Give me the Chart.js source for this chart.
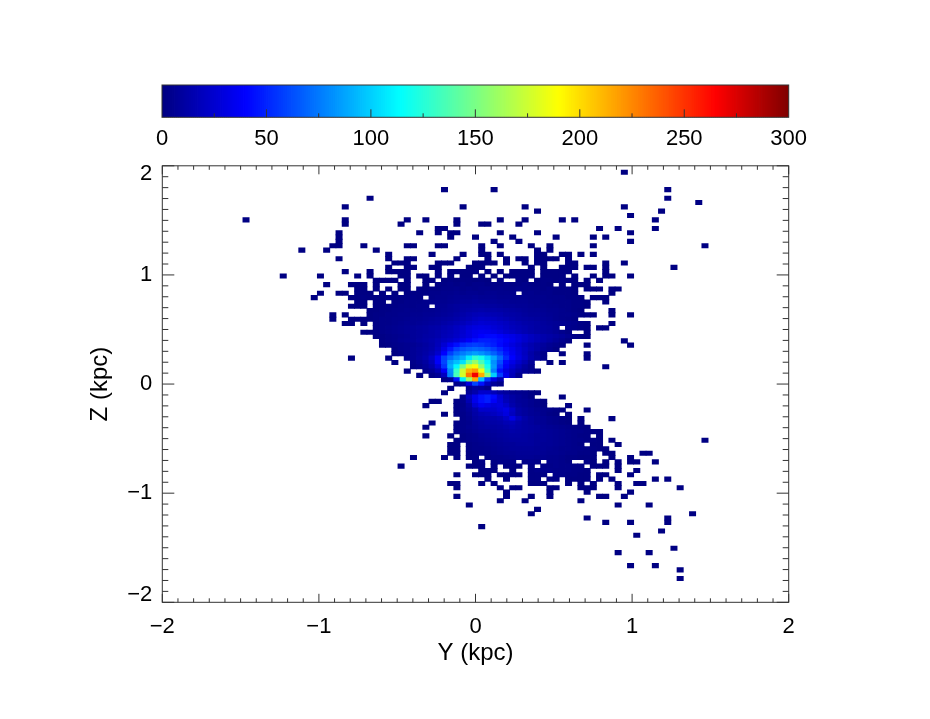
<!DOCTYPE html>
<html><head><meta charset="utf-8">
<style>html,body{margin:0;padding:0;background:#fff}#w{position:relative;width:930px;height:719px;overflow:hidden}canvas{position:absolute;left:0;top:0}</style>
<script src="https://cdn.jsdelivr.net/npm/chart.js@4/dist/chart.umd.min.js"></script>
</head><body><div id="w"><canvas id="main" width="930" height="719"></canvas><canvas id="bar" width="930" height="160"></canvas></div>
<script>
const binCount = 101;
const axisRange = [-2, 2];
const colorRange = [0, 300];
const colorStops = [[0,0,0,128],[40,0,0,255],[114,0,255,255],[190,255,255,0],[265,255,0,0],[300,128,0,0]];
const xTickValues = [-2,-1,0,1,2];
const xTickLabels = ['\u22122','\u22121','0','1','2'];
const zTickValues = [-2,-1,0,1,2];
const zLabelPositions = [-1.93,-1,0,1,1.93];
const zTickLabels = ['\u22122','\u22121','0','1','2'];
const colorTickValues = [0,50,100,150,200,250,300];

// lone bins, count 1: [row, col, col, ...]
const sparseBins = [
[1,74],[5,45,53,81],[7,33,81],[8,86],[9,29,48,58,74],[10,60,80],[11,75],
[12,13,29,39,42,47,54,58,64,66,79],[13,29,38,47,51,52,57],[14,44,45,70,73,79],[15,28,41,44,46,47,54,60,75],
[16,28,46,50,56,63,69,71],[17,28,53,57,75],[18,27,28,32,39,40,44,45,51,54,59,62,69,87],[19,22,26,34,51,60,62],
[20,36,43,48,51,52,54,60,61,64,65,67,69],[21,28,36,39,40,47,52,55,57,58,60,61,62,63,65],
[22,37,38,39,44,45,46,50,51,52,53,55,58,60,61,65,66,71,74],[23,36,39,40,43,44,49,50,51,59,61,64,65,66,68,69,71,82],
[24,29,33,36,37,38,39,44,46,47,48,49,50,52,54,56,57,58,59,61,62,63,64,65,71],
[25,19,25,31,33,38,39,41,42,44,46,48,49,51,53,55,56,57,58,59,61,62,63,64,66,69,71,72,75],
[74,47,54,56,57,62,63,67,68,69,73,83],[75,55,62,68,75],[76,47,55,59,62,70,71,74],[77,54,58,67],[78,49,73,78],[79,60],[80,59,85],
[81,68,81],[82,71,75,81],[83,51],[84,80],[85,76],[88,82],[89,73,78],[92,75,79],[93,83],[95,83]
];
// runs of counts: [row, firstCol, count, count, ...] (0 = empty bin)
const upperLobeBins = [
[26,34,1,1,1,1,0,1,0,0,1,1,0,1,2,1,2,2,1,2,1,0,2,0,0,2,1,0,1,2,2,1,2,1,1,0,1,0,1],
[27,26,1],[27,30,1,1,1,0,1],[27,38,1,1],[27,42,1],[27,44,2,2,3,2,3,2,3,3,2,3,2,3,2,2,3,2,2,2,1],[27,64,1],[27,66,1,1,1],
[28,31,1,1,0,1,0,1,0,1,1,0,2,1,2,2,3,3,4,3,4,3,4,4,3,4,3,3,4,3,3,3,2,3,2,2,2,1,0,1,1,1,0,1,1],
[29,25,1],[29,28,1,1,0,1,1,1,0,1,0,1,0,1,2,2,2,3,3,4,4,5,4,5,5,4,5,5,4,4,4,0,3,4,3,3,3,2,2,2,1],[29,72,1],
[30,24,1],[30,30,1,1,2,1,1,1,2,2,2,2,3,2,0,3,4,4,5,6,6,6,7,6,6,6,5,5,5,4,5,4,4,4,3,3,3,2,2,1,0,1,1,1],
[31,31,1,1,0,1,1,0,2,2,3,3,3,4,4,5,5,6,7,8,8,9,8,8,8,7,7,6,6,6,5,5,4,4,3,3,3,2,2,1],[31,71,1],
[32,30,1,1,1,0,1,1,2,2,3,3,3,4,4,0,6,6,8,9,10,10,11,11,10,10,9,8,8,7,7,6,5,5,4,4,3,3,2,2,1],
[33,33,1,1,2,2,3,3,4,4,4,5,5,6,7,8,9,11,12,13,14,13,13,12,11,10,9,8,7,7,6,5,5,4,3,2,1],[33,72,1],
[34,27,1,0,1],[34,33,1,2,2,3,3,4,4,5,5,6,6,7,8,9,11,13,15,17,18,17,16,15,13,12,11,9,8,8,7,6,5,4,4,3,2,2,1],[34,72,1,0,0,1],
[35,27,1,0,0,1,1,1,1,2,3,3,4,4,5,6,6,7,8,9,10,11,13,15,17,20,22,21,20,18,16,14,12,11,10,9,8,7,5,4,3,2],
[36,29,1,1,0,1,0,2,3,3,4,5,6,6,7,8,9,10,12,14,16,18,21,24,26,25,24,22,20,17,15,13,12,11,9,8,7,6,5,4,2,1],[36,72,1],
[37,34,2,3,4,5,6,7,8,9,10,12,13,15,17,20,23,27,30,31,30,27,25,22,19,17,15,13,11,10,9,7,0,4,3,2,1],[37,70,1,1],
[38,32,1,1,2,3,4,5,6,7,8,9,10,12,14,16,18,21,25,30,34,36,35,32,29,25,22,19,16,14,12,10,9,7,4,2],[38,68,1],
[39,34,1,2,3,4,5,6,8,9,11,12,14,17,19,22,26,30,35,40,42,42,39,35,32,28,24,20,17,14,12,10,8,5,3,2,1],
[40,35,2,3,4,6,7,8,10,12,14,17,20,23,27,32,38,44,48,48,46,43,39,34,29,24,20,17,14,11,8,5,2],[40,74,1],
[41,35,1,2,3,4,5,6,8,10,13,18,26,36,44,52,56,58,56,52,48,42,36,30,25,19,15,12,9,6,4,2],[41,68,1],[41,75,1],
[42,37,2,4,5,7,9,11,14,20,32,46,58,64,68,70,68,64,58,50,42,34,27,21,16,12,8,5,2],
[43,37,1,3,5,7,9,12,16,24,40,58,70,76,82,86,82,76,68,58,46,36,28,20,13,8,3],[43,64,1,0,0,0,1],
[44,30,1],[44,36,1,0,0,4,7,10,14,22,38,58,72,82,90,108,128,120,102,88,70,52,40,30,22,14,9,4],[44,68,1],
[45,37,1,0,0,3,6,10,18,38,60,85,95,105,140,158,135,110,82,62,42,32,24,16,8],[45,62,1,0,1],
[46,40,2,4,8,14,28,55,90,112,150,180,188,155,120,85,55,38,26,18,10,5],[46,71,1],
[47,39,1,0,0,4,8,16,38,80,130,175,212,220,185,130,78,45,30,20,13,8,5,2],
[48,41,1,0,3,7,20,78,135,178,230,268,215,155,100,58,34,18,6],
[49,45,2,5,45,110,160,215,95,55,30,15],
[50,47,3,8,30,60,45,20,8,3],
[51,46,1,0,0,4,10,8,3]
];
const lowerLobeBins = [
[52,45,1,0,0,0,8,14,24,24,18,12,9,6,5,4,2,1],
[53,48,3,20,34,44,48,42,26,16,11,8,5,2],[53,64,1],
[54,43,1,1,0,0,2,4,16,34,44,48,38,28,18,12,8,7,5,3,1],
[55,42,1,0,0,0,0,2,3,10,26,36,32,28,30,24,14,9,7,5,3,1],[55,65,1],
[56,47,2,4,8,14,24,24,24,28,32,22,12,9,7,5,4,3,2,1],[56,68,1],
[57,45,1,0,2,3,6,12,16,18,20,24,30,20,12,9,7,6,4,2,1],[57,65,1],
[58,48,3,5,10,13,14,14,16,22,32,20,13,9,7,6,4,3,2,1],[58,67,1],[58,72,1],
[59,43,1,0,0,0,2,3,4,8,10,12,12,13,16,18,14,11,9,7,6,4,3,2,1],[59,67,1],
[60,42,1,0,0,0,0,2,3,5,7,9,10,10,11,13,15,13,11,10,9,7,6,5,4,3,2,2,1],
[61,47,2,3,4,6,8,8,9,10,11,13,12,11,10,9,8,7,6,5,4,3,3,2,2,1],
[62,42,1,0,0,0,1,0,2,3,4,6,7,8,9,10,11,11,10,9,8,8,7,6,5,4,3,2,2,0,1],
[63,47,1,2,3,4,5,6,7,8,9,10,10,10,9,8,8,7,6,5,4,3,3,2,2,1],[63,72,1],[63,87,1],
[64,46,1,1,0,2,3,4,5,6,7,8,8,9,9,9,8,7,7,6,5,4,3,2,0,1,1],[64,73,1],
[65,46,1,1,0,2,3,3,4,5,6,7,8,8,8,8,7,7,6,5,4,4,3,3,2,2,1,1],
[66,46,1,1,0,1,2,3,3,4,5,6,6,7,7,7,7,6,5,5,4,3,3,2,2,1,0,1,1],[66,77,1,1],
[67,40,1],[67,45,1,0,1,0,1,2,0,2,3,3,4,5,6,6,6,5,5,4,4,3,2,2,1,1,1,0,0,1],[67,75,1],
[68,50,1,2,0,2,3,3,3,0,3,4,3,0,4,4,3,2,0,0,2,1,0,1,0,1,0,1,1,0,0,1],
[69,38,1],[69,49,1,1,1,0,1,0,1,2,1,0,2,0,3,3,4,3,3,2,2,0,1,1,1,0,1],
[70,51,1,1,1,0,0,1,0,0,2,3,4,4,3,3,3,2,2,1,0,0,0,0,1,0,0,1],
[71,47,1,0,0,1,1,1,0,1,2,2,1,0,2,2,2,0,3,3,2,2,1,1,0,1,1,0,0,0,1],
[72,52,1,0,0,1,0,0,0,2,2,0,2,2,0,1,1,1,1,0,1,0,1,0,0,0,0,0,0,1,0,1],
[73,46,1,1,0,0,0,1,0,1],[73,59,1,1,1,0,0,0,1,0,1,0,1,0,0,0,1,0,0,1,1]
];

function jet(v){
  for(let i=1;i<colorStops.length;i++){
    const a=colorStops[i-1],b=colorStops[i];
    if(v<=b[0]){const t=(v-a[0])/(b[0]-a[0]);
      return 'rgb('+[1,2,3].map(k=>Math.round(a[k]+(b[k]-a[k])*t)).join(',')+')';}
  }
  return 'rgb(128,0,0)';
}
const span=axisRange[1]-axisRange[0], binSize=span/binCount;
function cell(r,c,v){
  const z=axisRange[1]-(r+0.5)*binSize;
  return {x:axisRange[0]+(c+0.5)*binSize,y:[z-binSize/2,z+binSize/2],v};
}
const cells=[];
sparseBins.forEach(([r,...cols])=>cols.forEach(c=>cells.push(cell(r,c,1))));
upperLobeBins.concat(lowerLobeBins).forEach(([r,c0,...vals])=>vals.forEach((v,i)=>{if(v>0)cells.push(cell(r,c0+i,v));}));

const fontFamily='"Liberation Sans", Arial, sans-serif';
const tickFont={family:fontFamily,size:22};
const titleFont={family:fontFamily,size:24};
const frameColor='#333';

function drawTicks(ctx,scale,values,len,side,area){
  values.forEach(v=>{
    const p=scale.getPixelForValue(v);
    ctx.beginPath();
    if(side==='bottom'){ctx.moveTo(p,area.bottom);ctx.lineTo(p,area.bottom-len);}
    if(side==='top'){ctx.moveTo(p,area.top);ctx.lineTo(p,area.top+len);}
    if(side==='left'){ctx.moveTo(area.left,p);ctx.lineTo(area.left+len,p);}
    if(side==='right'){ctx.moveTo(area.right,p);ctx.lineTo(area.right-len,p);}
    ctx.stroke();
  });
}
const minorValues=[];
for(let i=-20;i<=20;i++) if(i%10!==0) minorValues.push(i/10);

const mainFrame={id:'mainFrame',afterDatasetsDraw(chart){
  const {ctx,chartArea:a,scales:{x,y}}=chart;
  ctx.save();ctx.strokeStyle=frameColor;ctx.lineWidth=1;
  ctx.strokeRect(a.left,a.top,a.right-a.left,a.bottom-a.top);
  ['bottom','top'].forEach(s=>{drawTicks(ctx,x,xTickValues,8.5,s,a);drawTicks(ctx,x,minorValues,4,s,a);});
  ['left','right'].forEach(s=>{drawTicks(ctx,y,zTickValues,12,s,a);drawTicks(ctx,y,minorValues,6,s,a);});
  ctx.restore();
}};

new Chart(document.getElementById('main'),{
  type:'bar',
  data:{datasets:[{data:cells,parsing:{xAxisKey:'x',yAxisKey:'y'},
    backgroundColor:c=>jet(c.raw.v),borderWidth:0,inflateAmount:0.4,barPercentage:1,categoryPercentage:1}]},
  plugins:[mainFrame],
  options:{responsive:false,animation:false,events:[],
    layout:{padding:{left:85.6,right:141.3,top:165.8,bottom:51.6}},
    plugins:{legend:{display:false},tooltip:{enabled:false}},
    scales:{
      x:{type:'linear',offset:false,min:axisRange[0],max:axisRange[1],grid:{display:false,drawTicks:false,offset:false},border:{display:false},
        afterBuildTicks:s=>{s.ticks=xTickValues.map(v=>({value:v}));},
        afterFit:s=>{s.height=65.1;},
        ticks:{autoSkip:false,maxRotation:0,padding:11,color:'#000',font:tickFont,callback:(v,i)=>xTickLabels[i]},
        title:{display:true,text:'Y (kpc)',color:'#000',font:titleFont,padding:0}},
      y:{type:'linear',min:axisRange[0],max:axisRange[1],grid:{display:false,drawTicks:false},border:{display:false},
        afterBuildTicks:s=>{s.ticks=zLabelPositions.map(v=>({value:v}));},
        afterFit:s=>{s.width=76.7;},
        ticks:{autoSkip:false,padding:10,color:'#000',font:tickFont,callback:(v,i)=>zTickLabels[i]},
        title:{display:true,text:'Z (kpc)',color:'#000',font:titleFont,padding:0}}
    }}
});

const colorLevels=[];
for(let l=colorRange[0];l<colorRange[1];l++) colorLevels.push({x:l+0.5,y:[0,1],v:l+0.5});
const colorMajor=[50,100,150,200,250];
const colorMinor=[25,75,125,175,225,275];
const barFrame={id:'barFrame',afterDatasetsDraw(chart){
  const {ctx,chartArea:a,scales:{x}}=chart;
  ctx.save();ctx.strokeStyle=frameColor;ctx.lineWidth=1;
  ctx.strokeRect(a.left,a.top,a.right-a.left,a.bottom-a.top);
  drawTicks(ctx,x,colorMajor,8,'bottom',a);drawTicks(ctx,x,colorMinor,4,'bottom',a);
  ctx.restore();
}};
new Chart(document.getElementById('bar'),{
  type:'bar',
  data:{datasets:[{data:colorLevels,parsing:{xAxisKey:'x',yAxisKey:'y'},
    backgroundColor:c=>jet(c.raw.v),borderWidth:0,inflateAmount:0.4,barPercentage:1,categoryPercentage:1}]},
  plugins:[barFrame],
  options:{responsive:false,animation:false,events:[],
    layout:{padding:{left:162,right:141.3,top:85,bottom:0}},
    plugins:{legend:{display:false},tooltip:{enabled:false}},
    scales:{
      x:{type:'linear',offset:false,min:colorRange[0],max:colorRange[1],grid:{display:false,drawTicks:false,offset:false},border:{display:false},
        afterBuildTicks:s=>{s.ticks=colorTickValues.map(v=>({value:v}));},
        afterFit:s=>{s.height=42.7;},
        ticks:{autoSkip:false,maxRotation:0,padding:8,color:'#000',font:tickFont}},
      y:{type:'linear',min:0,max:1,display:false}
    }}
});
</script></body></html>
